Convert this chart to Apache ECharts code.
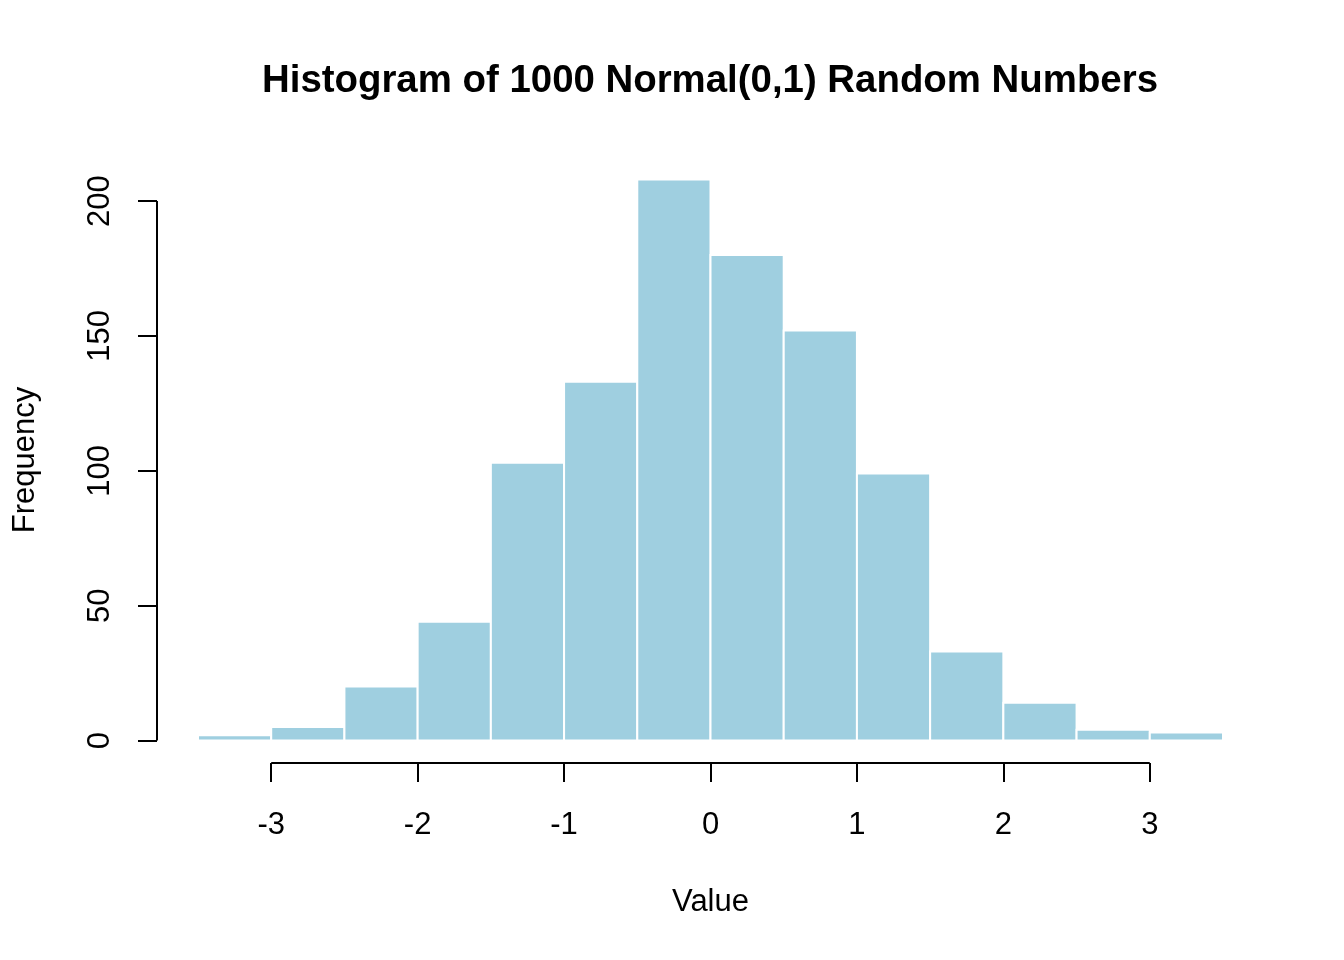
<!DOCTYPE html>
<html lang="en" style="height: 100%">
<head>
    <meta http-equiv="Content-Type" content="text/html; charset=utf-8"/>
    <title>Histogram</title>
    <script type="text/javascript" src="https://cdn.jsdelivr.net/npm/echarts@6/dist/echarts.min.js"></script>
</head>
<body style="height: 100%; margin: 0; background: #fff">
<div id="container" style="width: 1344px; height: 960px"></div>
<script type="text/javascript">
    // bin breaks and counts
    var breaks = [-3.5, -3, -2.5, -2, -1.5, -1, -0.5, 0, 0.5, 1, 1.5, 2, 2.5, 3, 3.5];
    var counts = [2, 5, 20, 44, 103, 133, 208, 180, 152, 99, 33, 14, 4, 3];
    var xTicks = [-3, -2, -1, 0, 1, 2, 3];
    var yTicks = [0, 50, 100, 150, 200];

    // R style 4% range extension
    var xMin = breaks[0] - 0.04 * (breaks[breaks.length - 1] - breaks[0]);
    var xMax = breaks[breaks.length - 1] + 0.04 * (breaks[breaks.length - 1] - breaks[0]);
    var yMin = -0.04 * 208;
    var yMax = 208 + 0.04 * 208;

    var binData = [];
    for (var i = 0; i < counts.length; i++) {
        binData.push([breaks[i], breaks[i + 1], counts[i]]);
    }

    var font = '"Liberation Sans", Arial, Helvetica, sans-serif';
    var myChart = echarts.init(document.getElementById("container"));

    var option = {
        backgroundColor: '#fff',
        animation: false,
        title: {
            text: 'Histogram of 1000 Normal(0,1) Random Numbers',
            left: 705,
            top: 57,
            textAlign: 'center',
            textStyle: {fontFamily: font, fontSize: 38.4, fontWeight: 'bold', color: '#000'}
        },
        grid: {left: 157, right: 80, top: 157, bottom: 197},
        xAxis: {
            type: 'value',
            min: xMin,
            max: xMax,
            name: 'Value',
            nameLocation: 'middle',
            nameGap: 124,
            nameTextStyle: {fontFamily: font, fontSize: 31, color: '#000'},
            splitLine: {show: false},
            axisLine: {show: false, onZero: false},
            axisTick: {show: true, customValues: xTicks, length: 19, lineStyle: {color: '#000', width: 2}},
            axisLabel: {customValues: xTicks, margin: 47, fontFamily: font, fontSize: 31, color: '#000'}
        },
        yAxis: {
            type: 'value',
            min: yMin,
            max: yMax,
            name: 'Frequency',
            nameLocation: 'middle',
            nameRotate: 90,
            nameGap: 116,
            nameTextStyle: {fontFamily: font, fontSize: 31, color: '#000'},
            splitLine: {show: false},
            axisLine: {show: false, onZero: false},
            axisTick: {show: true, customValues: yTicks, length: 19, lineStyle: {color: '#000', width: 2}},
            axisLabel: {customValues: yTicks, rotate: 90, margin: 41, fontFamily: font, fontSize: 31, color: '#000'}
        },
        series: [
            {
                type: 'custom',
                name: 'bins',
                data: binData,
                renderItem: function (params, api) {
                    var p0 = api.coord([api.value(0), api.value(2)]);
                    var p1 = api.coord([api.value(1), 0]);
                    return {
                        type: 'rect',
                        shape: {x: p0[0], y: p0[1], width: p1[0] - p0[0], height: p1[1] - p0[1]},
                        style: {fill: '#9FCFE0', stroke: '#fff', lineWidth: 2}
                    };
                }
            },
            {
                // axis lines only span first to last tick, like base R
                type: 'custom',
                name: 'axes',
                clip: false,
                silent: true,
                data: [[0]],
                renderItem: function (params, api) {
                    var xa = api.coord([xTicks[0], yMin]);
                    var xb = api.coord([xTicks[xTicks.length - 1], yMin]);
                    var ya = api.coord([xMin, yTicks[0]]);
                    var yb = api.coord([xMin, yTicks[yTicks.length - 1]]);
                    var st = {stroke: '#000', lineWidth: 2};
                    return {
                        type: 'group',
                        children: [
                            {type: 'line', shape: {x1: xa[0], y1: xa[1], x2: xb[0], y2: xb[1]}, style: st},
                            {type: 'line', shape: {x1: ya[0], y1: ya[1], x2: yb[0], y2: yb[1]}, style: st}
                        ]
                    };
                }
            }
        ]
    };
    myChart.setOption(option, true);
</script>
</body>
</html>
